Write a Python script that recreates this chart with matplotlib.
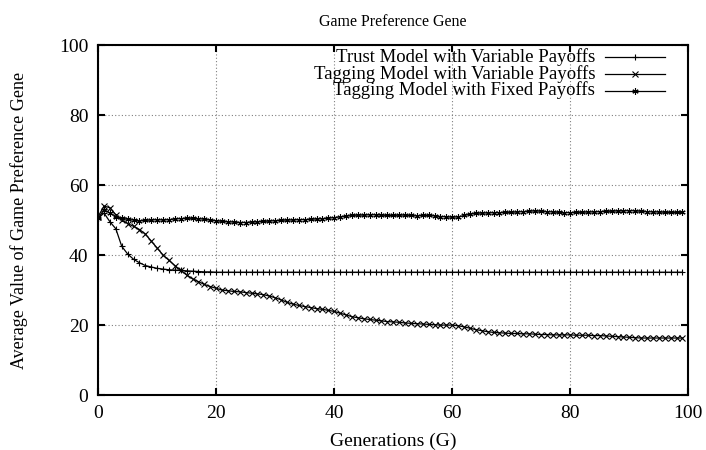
import matplotlib
matplotlib.use('Agg')
import matplotlib.pyplot as plt

generations = list(range(100))

trust_variable = [
    50.5, 52.0, 49.5, 47.5, 42.5, 40.3, 38.8, 37.8, 37.0, 36.6,
    36.2, 36.0, 35.8, 35.7, 35.6, 35.5, 35.4, 35.3, 35.2, 35.2,
    35.1, 35.1, 35.1, 35.1, 35.1, 35.1, 35.1, 35.1, 35.1, 35.1,
    35.1, 35.1, 35.1, 35.1, 35.1, 35.1, 35.1, 35.1, 35.1, 35.1,
    35.1, 35.1, 35.1, 35.1, 35.1, 35.1, 35.1, 35.1, 35.1, 35.1,
    35.1, 35.1, 35.1, 35.1, 35.1, 35.1, 35.1, 35.1, 35.1, 35.1,
    35.1, 35.1, 35.1, 35.1, 35.1, 35.1, 35.1, 35.1, 35.1, 35.1,
    35.1, 35.1, 35.1, 35.1, 35.1, 35.1, 35.1, 35.1, 35.1, 35.1,
    35.1, 35.1, 35.1, 35.1, 35.1, 35.1, 35.1, 35.1, 35.1, 35.1,
    35.1, 35.1, 35.1, 35.1, 35.1, 35.1, 35.1, 35.1, 35.1, 35.1,
]

tagging_variable = [
    51.0, 54.0, 53.5, 51.5, 50.0, 49.0, 48.2, 47.3, 46.0, 44.0,
    42.0, 40.0, 38.5, 37.0, 35.6, 34.3, 33.2, 32.4, 31.6, 31.0,
    30.5, 30.0, 29.8, 29.6, 29.5, 29.3, 29.1, 28.9, 28.7, 28.3,
    27.8, 27.2, 26.5, 26.0, 25.6, 25.3, 25.0, 24.7, 24.5, 24.2,
    23.9, 23.4, 22.9, 22.4, 22.1, 21.8, 21.6, 21.4, 21.2, 21.0,
    20.9, 20.8, 20.6, 20.5, 20.4, 20.3, 20.2, 20.1, 20.0, 20.0,
    20.0, 19.8, 19.5, 19.1, 18.7, 18.4, 18.1, 17.9, 17.8, 17.7,
    17.6, 17.6, 17.5, 17.5, 17.4, 17.3, 17.3, 17.2, 17.2, 17.2,
    17.2, 17.1, 17.1, 17.1, 17.0, 17.0, 16.9, 16.8, 16.7, 16.6,
    16.5, 16.4, 16.3, 16.3, 16.3, 16.3, 16.3, 16.3, 16.3, 16.3,
]

tagging_fixed = [
    50.5, 53.0, 52.0, 51.0, 50.5, 50.2, 50.0, 49.8, 49.9, 50.0,
    50.1, 50.0, 50.1, 50.3, 50.4, 50.5, 50.5, 50.4, 50.2, 50.0,
    49.8, 49.6, 49.5, 49.4, 49.3, 49.3, 49.4, 49.5, 49.6, 49.7,
    49.8, 49.9, 50.0, 50.0, 50.1, 50.1, 50.2, 50.3, 50.4, 50.5,
    50.7, 50.9, 51.1, 51.3, 51.4, 51.4, 51.5, 51.5, 51.4, 51.3,
    51.3, 51.4, 51.4, 51.3, 51.2, 51.3, 51.3, 51.2, 51.0, 50.9,
    50.8, 50.9, 51.3, 51.7, 51.9, 52.0, 52.0, 52.1, 52.1, 52.2,
    52.2, 52.3, 52.4, 52.5, 52.6, 52.5, 52.4, 52.3, 52.2, 52.1,
    52.1, 52.2, 52.2, 52.3, 52.3, 52.4, 52.5, 52.5, 52.6, 52.6,
    52.7, 52.6, 52.5, 52.4, 52.3, 52.3, 52.2, 52.2, 52.2, 52.2,
]

labels = [
    'Trust Model with Variable Payoffs',
    'Tagging Model with Variable Payoffs',
    'Tagging Model with Fixed Payoffs',
]
ticks = [0, 20, 40, 60, 80, 100]

plt.rcParams['font.family'] = ['Liberation Serif', 'DejaVu Serif']
plt.rcParams['font.size'] = 14

fig = plt.figure(figsize=(7.06, 4.5), dpi=100)
ax = fig.add_axes([0.139, 0.122, 0.836, 0.778])

series = [trust_variable, tagging_variable, tagging_fixed]
markers = ['+', 'x', (6, 2, 0)]
sizes = [5, 4, 4.5]

for i, vals in enumerate(series):
    ax.plot(generations, vals, color='black', lw=0.9, marker=markers[i],
            ms=sizes[i], mew=0.8)

# gnuplot-style key: right-aligned text, sample line on the right
key_rows = [0.966, 0.918, 0.870]
for i, lab in enumerate(labels):
    yk = key_rows[i]
    ax.text(0.842, yk, lab, transform=ax.transAxes, ha='right', va='center', fontsize=13.5)
    ax.plot([0.859, 0.961], [yk, yk], transform=ax.transAxes, color='black', lw=0.9, clip_on=False)
    ax.plot([0.91], [yk], transform=ax.transAxes, color='black', marker=markers[i],
            ms=sizes[i], mew=0.8, clip_on=False)

ax.set_xlim(0, 100)
ax.set_ylim(0, 100)
ax.set_xticks(ticks)
ax.set_yticks(ticks)
ax.grid(True, color='gray', linestyle=(0, (1, 2)), lw=0.8)
ax.tick_params(direction='in', length=5, width=1.5, top=True, right=True, pad=7)
for s in ax.spines.values():
    s.set_linewidth(1.5)

ax.set_title('Game Preference Gene', fontsize=11.5, pad=14)
ax.set_xlabel('Generations (G)', labelpad=8)
ax.set_ylabel('Average Value of Game Preference Gene', fontsize=13, labelpad=22)

fig.savefig('out.png', dpi=100)
